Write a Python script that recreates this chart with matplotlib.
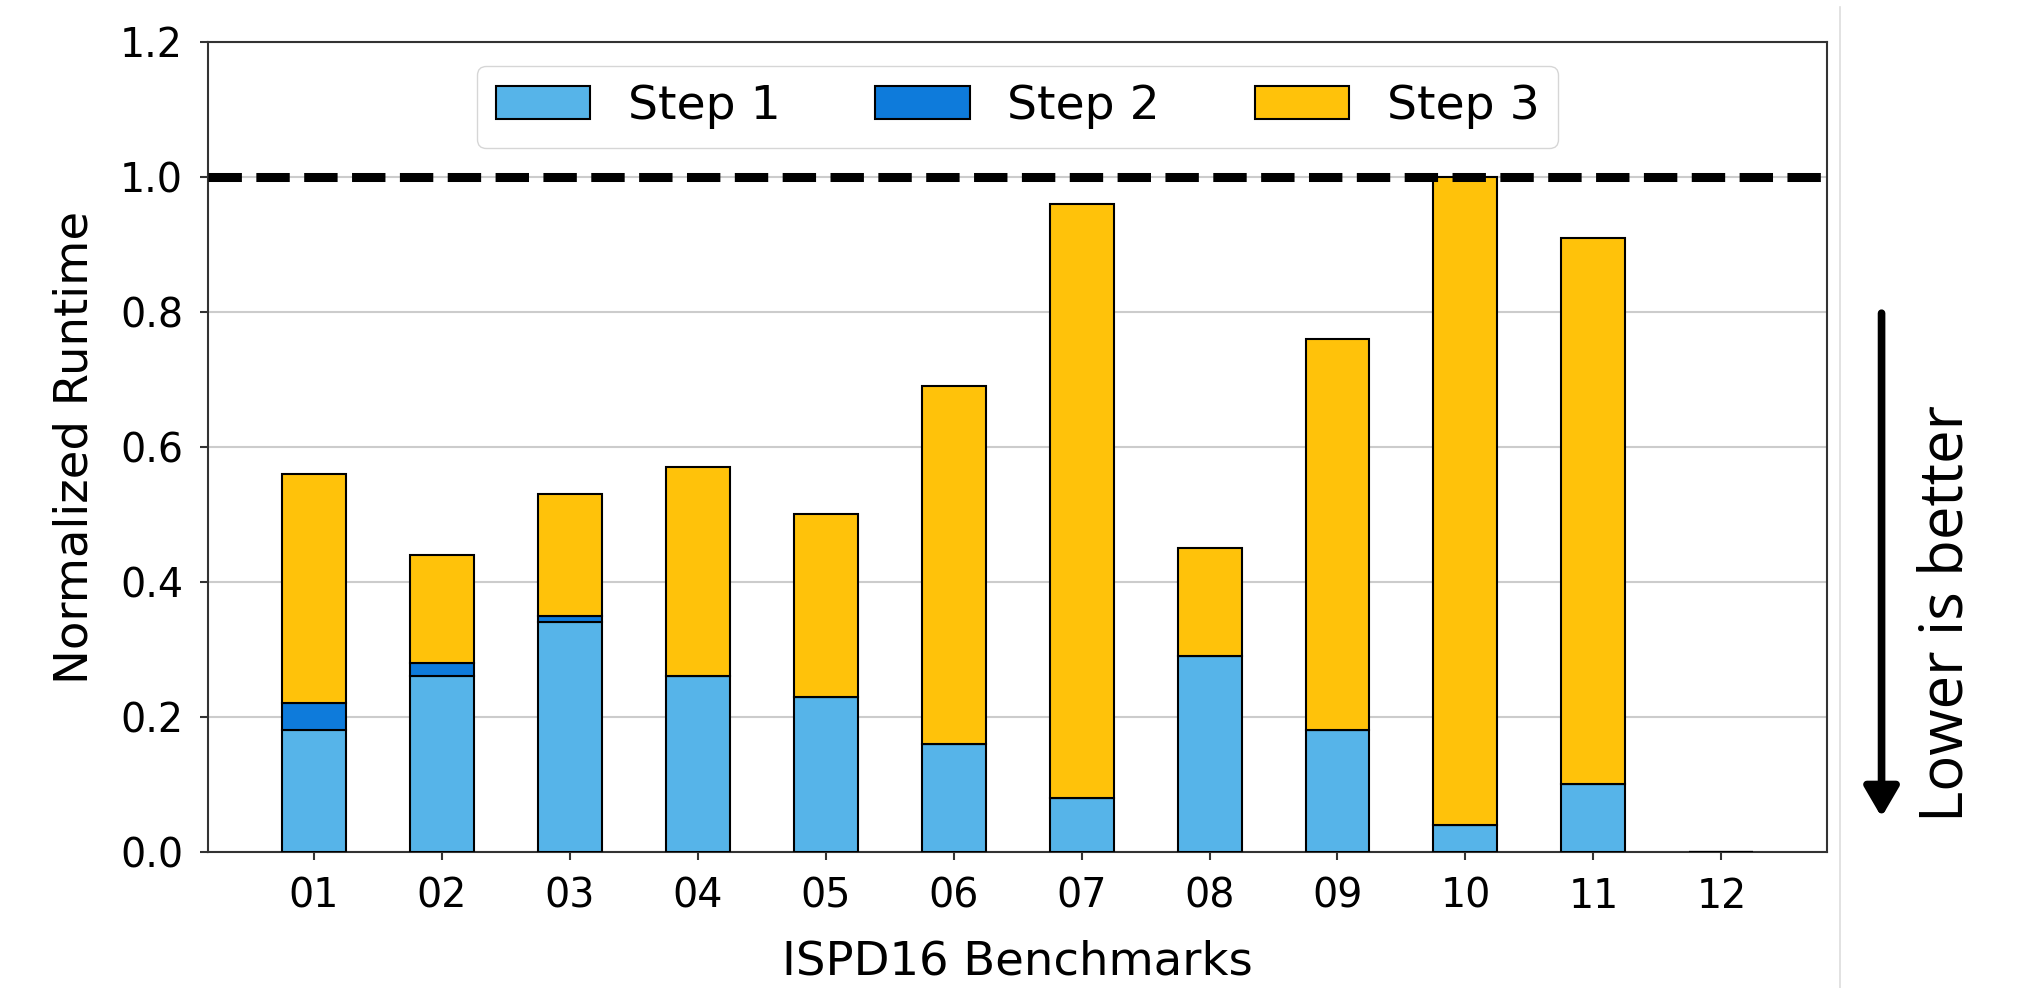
import matplotlib
matplotlib.use("Agg")
import matplotlib.pyplot as plt
import numpy as np

benchmarks = ["01", "02", "03", "04", "05", "06", "07", "08", "09", "10", "11", "12"]
step1 = [0.18, 0.26, 0.34, 0.26, 0.23, 0.16, 0.08, 0.29, 0.18, 0.04, 0.10, 0.0]
step2 = [0.04, 0.02, 0.01, 0.0, 0.0, 0.0, 0.0, 0.0, 0.0, 0.0, 0.0, 0.0]
step3 = [0.34, 0.16, 0.18, 0.31, 0.27, 0.53, 0.88, 0.16, 0.58, 0.96, 0.81, 0.0]

colors = ["#56B4E9", "#0E7BDB", "#FFC20A"]

fig = plt.figure(figsize=(20.21, 9.88), dpi=100)
ax = fig.add_axes([0.103, 0.1377, 0.801, 0.8198])

x = np.arange(len(benchmarks))
s1 = np.array(step1)
s2 = np.array(step2)
s3 = np.array(step3)
bar_kw = dict(width=0.5, edgecolor="black", linewidth=1.5, zorder=3)
ax.bar(x, s1, color=colors[0], label="Step 1", **bar_kw)
ax.bar(x, s2, bottom=s1, color=colors[1], label="Step 2", **bar_kw)
ax.bar(x, s3, bottom=s1 + s2, color=colors[2], label="Step 3", **bar_kw)

ax.axhline(1.0, color="black", linestyle="--", linewidth=6.5, zorder=4)

ax.set_ylim(0, 1.2)
ax.set_yticks(np.arange(0, 1.21, 0.2))
ax.set_xticks(x)
ax.set_xticklabels(benchmarks)
ax.yaxis.grid(True, color="#cccccc", linewidth=1.5, zorder=0)
ax.set_axisbelow(True)
for sp in ax.spines.values():
    sp.set_color("#333333")
    sp.set_linewidth(1.5)
ax.tick_params(axis="both", labelsize=28.5, length=6, width=1.5, color="#333333", pad=12)

ax.set_xlabel("ISPD16 Benchmarks", fontsize=33.5, labelpad=16)
ax.set_ylabel("Normalized Runtime", fontsize=33.5, labelpad=16)

ax.legend(loc="upper center", ncol=3, fontsize=34, bbox_to_anchor=(0.5, 1.0))

# separator and "lower is better" note on the right
fig.add_artist(plt.Line2D([0.9105, 0.9105], [0.0, 0.993], color="#dddddd", linewidth=1.2))
ax.annotate("", xy=(0.931, 0.173), xytext=(0.931, 0.683),
            xycoords="figure fraction", textcoords="figure fraction",
            arrowprops=dict(arrowstyle="-|>,head_width=0.35,head_length=0.6",
                            color="black", lw=5.5, mutation_scale=30,
                            shrinkA=0, shrinkB=0))
fig.text(0.963, 0.3795, "Lower is better", rotation=90, fontsize=43,
         family=["Open Sans", "DejaVu Sans"], ha="center", va="center")

fig.savefig("out.png", dpi=100)
